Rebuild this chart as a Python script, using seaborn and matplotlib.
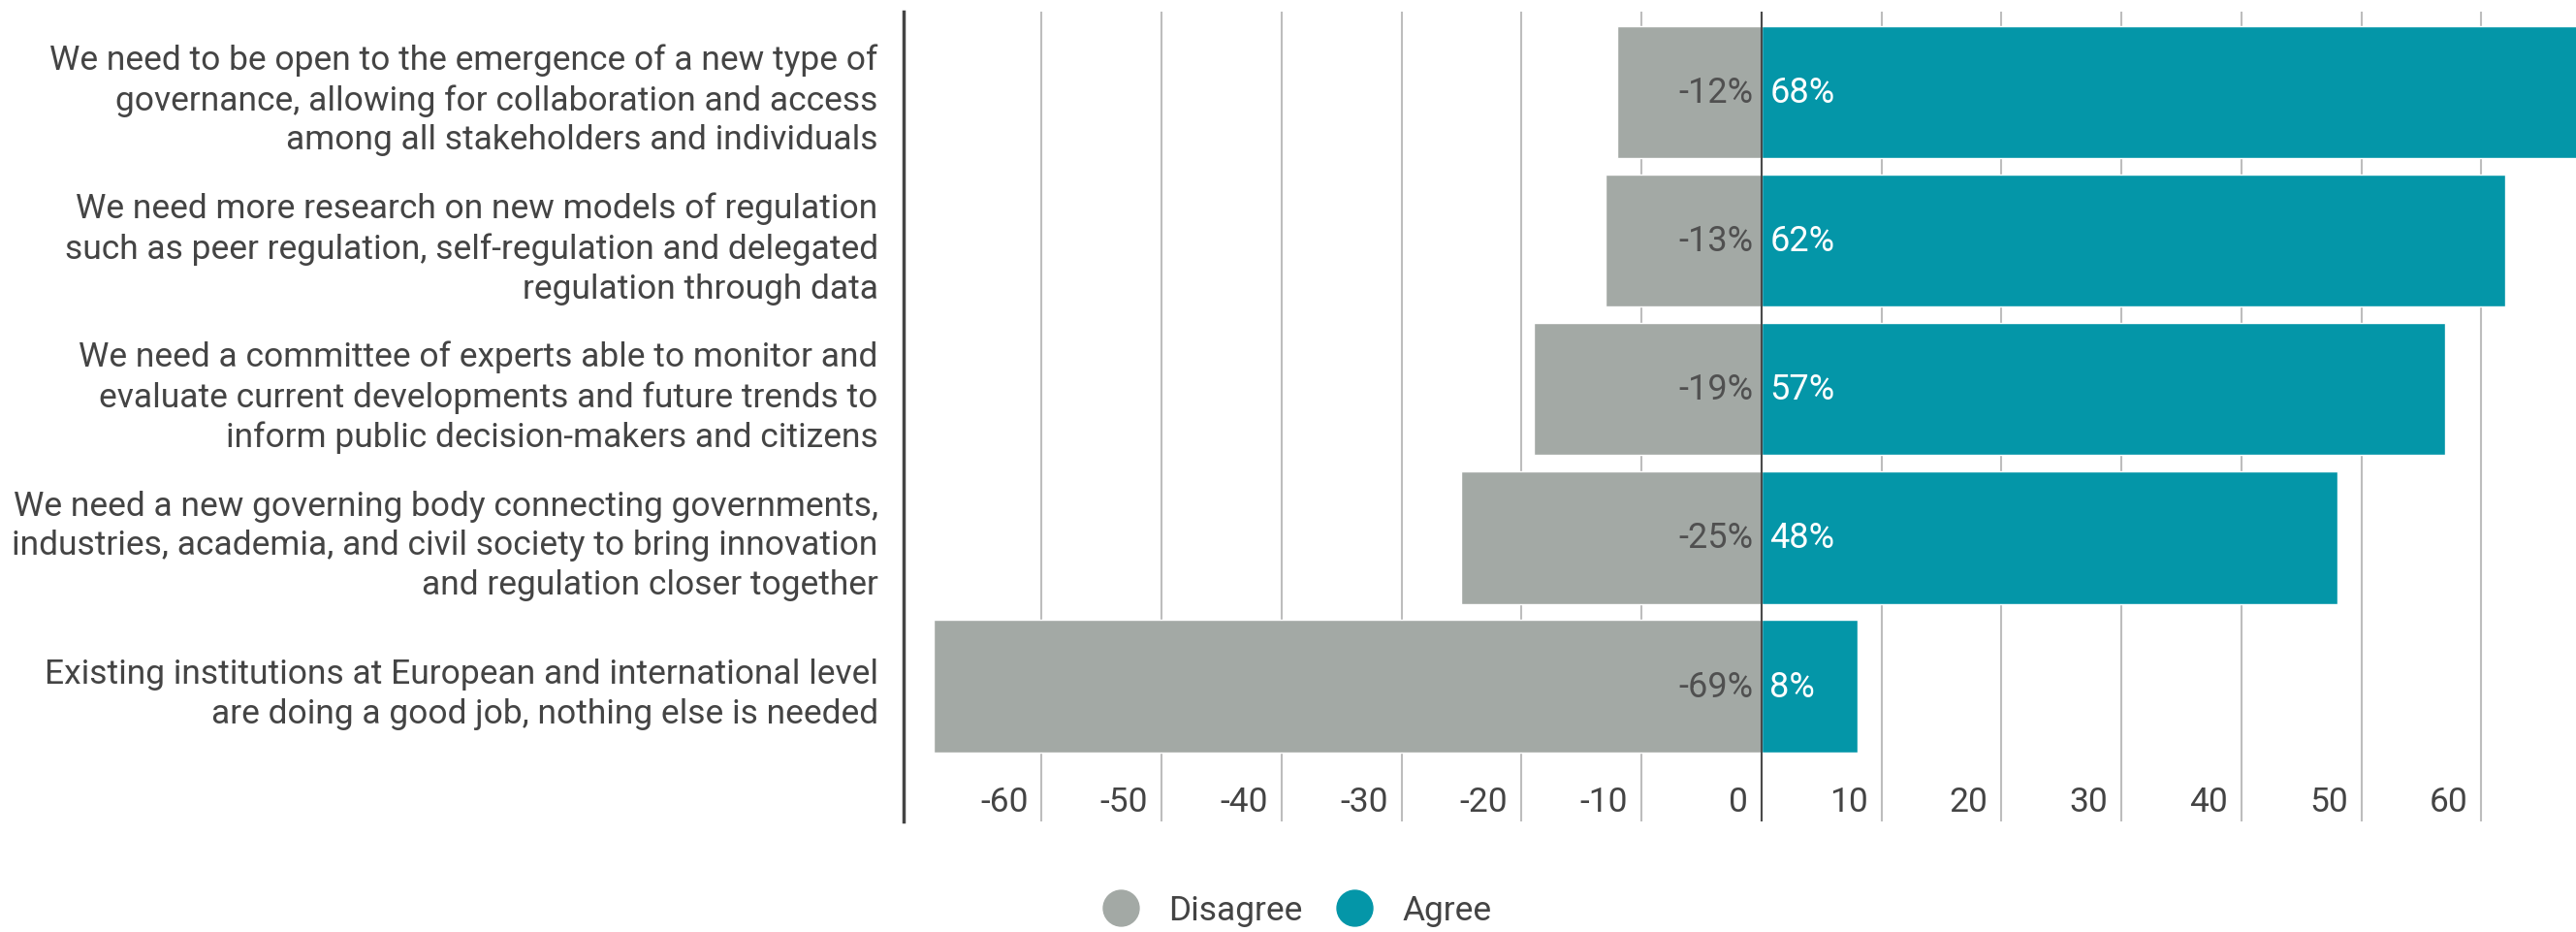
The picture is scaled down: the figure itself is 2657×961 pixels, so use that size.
import matplotlib
matplotlib.use("Agg")
import matplotlib.pyplot as plt
import matplotlib.transforms as mtransforms
from matplotlib.lines import Line2D
import seaborn as sns
import pandas as pd

categories = [
    "We need to be open to the emergence of a new type of\ngovernance, allowing for collaboration and access\namong all stakeholders and individuals",
    "We need more research on new models of regulation\nsuch as peer regulation, self-regulation and delegated\nregulation through data",
    "We need a committee of experts able to monitor and\nevaluate current developments and future trends to\ninform public decision-makers and citizens",
    "We need a new governing body connecting governments,\nindustries, academia, and civil society to bring innovation\nand regulation closer together",
    "Existing institutions at European and international level\nare doing a good job, nothing else is needed",
]
disagree = [-12, -13, -19, -25, -69]
agree = [68, 62, 57, 48, 8]
xticks = [-60, -50, -40, -30, -20, -10, 0, 10, 20, 30, 40, 50, 60]
series_names = ["Disagree", "Agree"]

GRAY = "#a3a9a5"
TEAL = "#0496a8"
TEXT = "#444444"
FS = 25.5

sns.set_theme(style="white")
plt.rcParams["font.family"] = ["Roboto", "DejaVu Sans"]

fig = plt.figure(figsize=(26.57, 9.62), dpi=100)
ax = fig.add_axes([0.3508, 0.1185, 0.6492, 0.868])

df = pd.DataFrame({"cat": categories, "Disagree": disagree, "Agree": agree})
sns.barplot(data=df, x="Disagree", y="cat", color=GRAY, width=0.89, ax=ax,
            saturation=1, orient="h", zorder=2)
sns.barplot(data=df, x="Agree", y="cat", color=TEAL, width=0.89, ax=ax,
            saturation=1, orient="h", zorder=2)

ax.set_xlim(-71.5, 67.9)
ax.set_ylim(4.91, -0.542)
ax.set_xlabel("")
ax.set_ylabel("")

ax.set_xticks(xticks)
ax.set_xticklabels([str(t) for t in xticks])
ax.xaxis.grid(True, color="#bdbdbd", linewidth=1.5, zorder=0)
ax.yaxis.grid(False)
ax.set_axisbelow(True)
ax.axvline(0, color="#4a4a4a", linewidth=1.5, zorder=3)

for s in ["top", "right", "bottom"]:
    ax.spines[s].set_visible(False)
ax.spines["left"].set_color("#444444")
ax.spines["left"].set_linewidth(2.5)

ax.tick_params(axis="x", length=0, pad=-15, labelsize=FS, labelcolor=TEXT)
ax.tick_params(axis="y", length=0, pad=19, labelsize=FS, labelcolor=TEXT)
offset = mtransforms.ScaledTranslation(-10 / 72, 0, fig.dpi_scale_trans)
for lab in ax.get_xticklabels():
    lab.set_ha("right")
    lab.set_va("center")
    lab.set_transform(lab.get_transform() + offset)
for lab in ax.get_yticklabels():
    lab.set_linespacing(1.3)
    lab.set_ha("right")

for i, (d, a) in enumerate(zip(disagree, agree)):
    ax.annotate(f"{d}%", xy=(0, i), xytext=(-6, 0), textcoords="offset points",
                ha="right", va="center", fontsize=26, color="#505050", zorder=4)
    ax.annotate(f"{a}%", xy=(0, i), xytext=(6, 0), textcoords="offset points",
                ha="left", va="center", fontsize=26, color="white", zorder=4)

handles = [Line2D([], [], marker="o", linestyle="none", markersize=26.6,
                  markerfacecolor=c, markeredgecolor=c) for c in (GRAY, TEAL)]
fig.legend(handles, series_names, loc="center", bbox_to_anchor=(0.503, 0.0229),
           ncol=2, frameon=False, fontsize=FS, handlelength=1.2,
           handletextpad=0.8, columnspacing=0.9, labelcolor=TEXT)

fig.savefig("out.png", dpi=100)
